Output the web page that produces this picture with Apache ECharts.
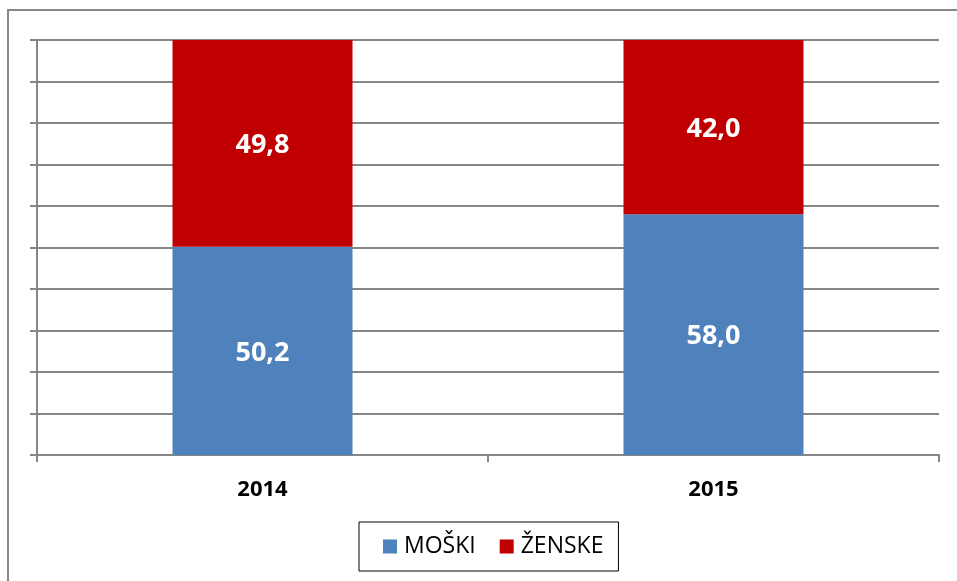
<!DOCTYPE html>
<html>
<head>
<meta charset="utf-8">
<script src="https://cdn.jsdelivr.net/npm/echarts@6/dist/echarts.min.js"></script>
<style>
html,body{margin:0;padding:0;background:#fff;}
#c{width:957px;height:581px;}
</style>
</head>
<body>
<div id="c"></div>
<script>
var categories = ['2014', '2015'];
var moski = [50.2, 58.0];
var zenske = [49.8, 42.0];
var seriesNames = ['MOŠKI', 'ŽENSKE'];

var chart = echarts.init(document.getElementById('c'), null, {renderer: 'canvas'});
var font = '"Open Sans", "DejaVu Sans", sans-serif';
function fmt(p) { return p.value.toFixed(1).replace('.', ','); }
chart.setOption({
  animation: false,
  backgroundColor: '#fff',
  graphic: [{
    type: 'rect',
    shape: {x: 8, y: 10, width: 960, height: 600},
    style: {fill: 'none', stroke: '#868686', lineWidth: 2},
    silent: true
  }],
  grid: {left: 37, right: 18, top: 40, bottom: 126},
  legend: {
    data: seriesNames,
    left: 359, top: 522,
    borderColor: '#000', borderWidth: 1,
    padding: [13, 15, 13, 24],
    itemWidth: 14, itemHeight: 14, itemGap: 24,
    icon: 'rect',
    textStyle: {fontSize: 23, color: '#000', fontFamily: font, padding: [0, 0, 0, 2]}
  },
  xAxis: {
    type: 'category',
    data: categories,
    boundaryGap: true,
    axisLine: {lineStyle: {color: '#868686', width: 2}},
    axisTick: {show: true, length: 7, lineStyle: {color: '#868686', width: 2}},
    axisLabel: {fontSize: 22, fontWeight: 'bold', color: '#000', fontFamily: font, margin: 24}
  },
  yAxis: {
    type: 'value',
    min: 0, max: 100, interval: 10,
    axisLine: {show: true, lineStyle: {color: '#868686', width: 2}},
    axisTick: {show: true, length: 7, lineStyle: {color: '#868686', width: 2}},
    axisLabel: {show: false},
    splitLine: {lineStyle: {color: '#868686', width: 2}}
  },
  series: [{
    name: seriesNames[0], type: 'bar', stack: 'a', data: moski, barWidth: 180,
    itemStyle: {color: '#4F81BD'},
    label: {show: true, position: 'inside', color: '#fff', fontWeight: 'bold', fontSize: 27, fontFamily: font, formatter: fmt, offset: [0, 2]}
  }, {
    name: seriesNames[1], type: 'bar', stack: 'a', data: zenske, barWidth: 180,
    itemStyle: {color: '#C00000'},
    label: {show: true, position: 'inside', color: '#fff', fontWeight: 'bold', fontSize: 27, fontFamily: font, formatter: fmt, offset: [0, 2]}
  }]
});
</script>
</body>
</html>
